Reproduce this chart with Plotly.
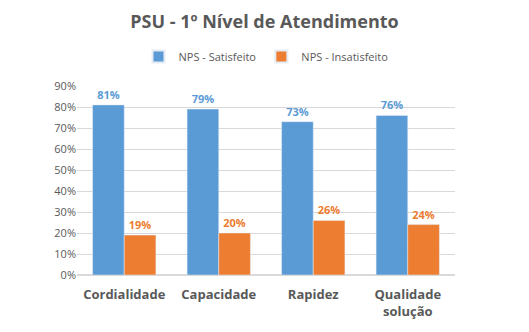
import plotly.graph_objects as go

categories = ["Cordialidade", "Capacidade", "Rapidez", "Qualidade<br>solução"]
satisfeito = [0.81, 0.79, 0.73, 0.76]
insatisfeito = [0.19, 0.20, 0.26, 0.24]
y_ticks = [0, 0.1, 0.2, 0.3, 0.4, 0.5, 0.6, 0.7, 0.8, 0.9]

BLUE = "#5B9BD5"
ORANGE = "#ED7D31"
GRAY = "#595959"
FONT = "Open Sans"

fig = go.Figure()
fig.add_trace(go.Bar(
    name="NPS - Satisfeito", x=categories, y=satisfeito, marker_color=BLUE,
    text=[f"<b>{v:.0%}</b>" for v in satisfeito], textposition="outside",
    textfont=dict(color=BLUE, size=11, family=FONT), cliponaxis=False))
fig.add_trace(go.Bar(
    name="NPS - Insatisfeito", x=categories, y=insatisfeito, marker_color=ORANGE,
    text=[f"<b>{v:.0%}</b>" for v in insatisfeito], textposition="outside",
    textfont=dict(color=ORANGE, size=11, family=FONT), cliponaxis=False))

fig.update_layout(
    width=529, height=332,
    margin=dict(l=77, r=74, t=86, b=54),
    paper_bgcolor="white", plot_bgcolor="white",
    font=dict(family=FONT, color=GRAY),
    title=dict(text="<b>PSU - 1º Nível de Atendimento</b>", x=0.5, xanchor="center",
               y=1 - 22/332, yanchor="middle", font=dict(size=18, color=GRAY, family=FONT)),
    legend=dict(orientation="h", x=0.5, xanchor="center", y=1 + 30/192, yanchor="middle",
                font=dict(size=11, color=GRAY), itemwidth=30, traceorder="normal",
                itemsizing="constant"),
    barmode="group", bargap=0.33, bargroupgap=0,
)
fig.update_yaxes(range=[0, 0.9], tickvals=y_ticks, tickformat=".0%",
                 showgrid=True, gridcolor="#D9D9D9", gridwidth=1,
                 zeroline=True, zerolinecolor="#D9D9D9",
                 tickfont=dict(size=11, color=GRAY), ticks="", showline=False)
fig.update_xaxes(tickfont=dict(size=13, color=GRAY, family=FONT), ticks="",
                 showline=False, tickprefix="<b>", ticksuffix="</b>",
                 ticklabelstandoff=10)

fig.write_html("out.html")
